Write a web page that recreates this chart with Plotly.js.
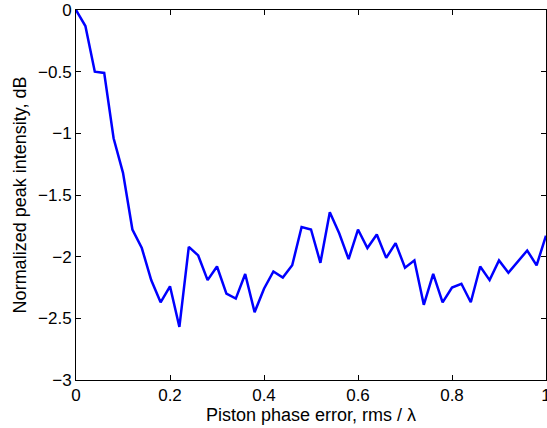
<!DOCTYPE html>
<html><head><meta charset="utf-8">
<script src="https://cdn.plot.ly/plotly-3.0.1.min.js"></script>
<style>html,body{margin:0;padding:0;background:#fff}#c{width:547px;height:428px}</style>
</head><body><div id="c"></div>
<script>
const xVals = [0,0.02,0.04,0.06,0.08,0.10,0.12,0.14,0.16,0.18,0.20,0.22,0.24,0.26,0.28,0.30,0.32,0.34,0.36,0.38,0.40,0.42,0.44,0.46,0.48,0.50,0.52,0.54,0.56,0.58,0.60,0.62,0.64,0.66,0.68,0.70,0.72,0.74,0.76,0.78,0.80,0.82,0.84,0.86,0.88,0.90,0.92,0.94,0.96,0.98,1.00];
const yVals = [0,-0.13,-0.50,-0.51,-1.04,-1.32,-1.78,-1.93,-2.19,-2.37,-2.24,-2.57,-1.92,-1.99,-2.19,-2.08,-2.30,-2.34,-2.14,-2.45,-2.26,-2.12,-2.17,-2.07,-1.76,-1.78,-2.05,-1.64,-1.81,-2.02,-1.78,-1.93,-1.82,-2.01,-1.89,-2.09,-2.03,-2.39,-2.14,-2.37,-2.25,-2.22,-2.37,-2.08,-2.19,-2.03,-2.13,-2.04,-1.95,-2.07,-1.83];
const xTicks = [0,0.2,0.4,0.6,0.8,1];
const xTickText = ['0','0.2','0.4','0.6','0.8','1'];
const yTicks = [0,-0.5,-1,-1.5,-2,-2.5,-3];
const yTickText = ['0','\u22120.5','\u22121','\u22121.5','\u22122','\u22122.5','\u22123'];

const tickFont = {family:'Liberation Sans, Arial, sans-serif', size:17, color:'#000'};
const titleFont = {family:'Liberation Sans, Arial, sans-serif', size:18, color:'#000'};
Plotly.newPlot('c', [{
  x: xVals, y: yVals, type:'scatter', mode:'lines',
  line:{color:'#0000ff', width:2.5}, cliponaxis:false
}], {
  width:547, height:428,
  margin:{l:76, r:1, t:10, b:48},
  paper_bgcolor:'#fff', plot_bgcolor:'#fff',
  showlegend:false,
  font: tickFont,
  xaxis:{range:[0,1], tickvals:xTicks, ticktext:xTickText, ticks:'inside', ticklen:5, tickcolor:'#000',
    showgrid:false, zeroline:false, showline:true, linecolor:'#000', linewidth:1, mirror:'ticks',
    ticklabeloverflow:'allow',
    tickfont:tickFont, title:{text:'Piston phase error, rms / \u03bb', font:titleFont, standoff:2}},
  yaxis:{range:[-3,0], tickvals:yTicks, ticktext:yTickText, ticks:'inside', ticklen:5, tickcolor:'#000',
    showgrid:false, zeroline:false, showline:true, linecolor:'#000', linewidth:1, mirror:'ticks',
    ticklabeloverflow:'allow',
    tickfont:tickFont, title:{text:'Normalized peak intensity, dB', font:titleFont, standoff:6}}
}, {displayModeBar:false, staticPlot:true});
</script></body></html>
